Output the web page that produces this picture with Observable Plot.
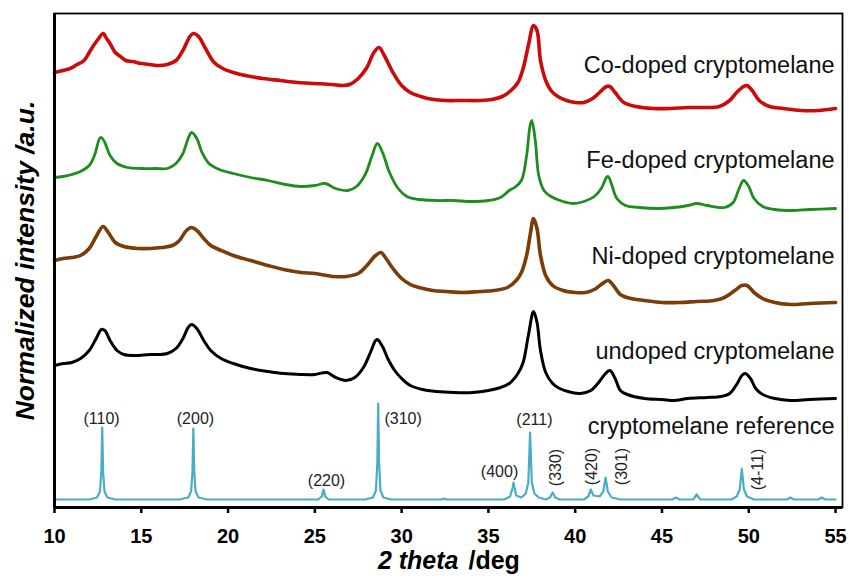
<!DOCTYPE html>
<html><head><meta charset="utf-8">
<script src="https://cdn.jsdelivr.net/npm/d3@7"></script>
<script src="https://cdn.jsdelivr.net/npm/@observablehq/plot@0.6"></script>
<style>
body{margin:0;background:#fff;}
svg{display:block}
g[aria-label="x-axis tick label"] text{font-weight:bold;}
</style>
</head><body><div id="chart"></div>
<script>
// 2θ ticks
const xTicks = [10, 15, 20, 25, 30, 35, 40, 45, 50, 55];

// [2θ (deg), normalized intensity incl. vertical offset (a.u.)]
const coDoped = [[10.0,435],[10.5,437],[10.9,439],[11.3,443],[11.7,447],[12.0,455],[12.25,462],[12.5,468],[12.8,474],[13.0,469],[13.2,464],[13.5,455],[13.8,451],[14.1,447],[14.5,446],[15.0,444],[15.5,443],[16.0,442],[16.5,443],[17.0,447],[17.4,457],[17.8,471],[18.0,474],[18.3,471],[18.7,459],[19.2,445],[19.7,439],[20.3,435],[21.0,432],[22.0,429],[23.0,427],[24.0,425],[25.0,424],[26.0,423],[26.6,422],[27.0,423],[27.5,429],[28.0,440],[28.4,455],[28.7,460],[29.0,452],[29.5,435],[30.0,422],[30.5,415],[31.1,411],[31.5,409],[32.5,407],[33.5,407],[34.5,407],[35.2,408],[35.8,411],[36.3,417],[36.7,425],[37.0,439],[37.3,462],[37.6,482],[37.8,477],[38.0,447],[38.3,427],[38.6,417],[39.0,411],[39.5,407],[40.0,405],[40.5,405],[41.0,409],[41.4,415],[41.8,421],[42.0,421],[42.3,415],[42.8,405],[43.5,401],[44.5,399],[45.5,399],[46.5,400],[47.5,400],[48.3,401],[48.9,407],[49.3,415],[49.7,421],[49.9,422],[50.2,417],[50.6,407],[51.2,401],[52.0,399],[53.0,397],[54.0,397],[55.0,399]];

const feDoped = [[10.0,330],[10.5,331],[11.0,333],[11.5,336],[12.0,342],[12.3,352],[12.6,369],[12.7,370],[12.9,365],[13.2,352],[13.6,344],[14.2,340],[15.0,339],[15.8,339],[16.5,339],[17.0,344],[17.4,354],[17.7,369],[17.9,375],[18.2,369],[18.5,355],[18.9,344],[19.5,338],[20.3,334],[21.3,330],[22.3,327],[23.3,323],[24.2,321],[25.0,322],[25.6,324],[26.2,319],[26.9,317],[27.4,321],[27.9,333],[28.3,352],[28.6,364],[28.9,355],[29.3,335],[29.8,319],[30.3,311],[31.0,308],[32.0,307],[33.0,307],[34.0,306],[35.0,307],[35.7,310],[36.2,317],[36.5,320],[36.9,327],[37.2,352],[37.4,382],[37.5,387],[37.7,367],[37.9,332],[38.2,317],[38.6,311],[39.3,306],[39.9,304],[40.5,306],[41.1,311],[41.5,319],[41.8,330],[41.9,331],[42.1,323],[42.4,309],[42.9,302],[43.7,300],[44.7,299],[45.7,300],[46.5,302],[47.0,304],[47.6,302],[48.6,300],[49.1,305],[49.4,317],[49.7,327],[50.0,321],[50.3,309],[50.8,301],[51.5,298],[52.5,297],[53.5,298],[55.0,299]];

const niDoped = [[10.0,247],[10.5,249],[11.0,250],[11.5,252],[12.0,259],[12.4,271],[12.8,281],[13.1,275],[13.5,265],[14.0,261],[14.8,259],[15.5,259],[16.2,260],[16.8,262],[17.2,267],[17.6,277],[17.9,280],[18.2,277],[18.6,269],[19.0,262],[19.6,257],[20.3,252],[21.3,247],[22.3,242],[23.2,238],[24.2,235],[25.0,234],[26.1,231],[26.8,231],[27.5,234],[28.0,242],[28.5,252],[28.8,255],[29.1,249],[29.5,239],[30.0,229],[30.5,223],[31.0,220],[31.8,217],[32.6,216],[33.5,215],[34.5,216],[35.3,217],[36.1,220],[36.6,227],[36.9,235],[37.2,252],[37.4,272],[37.6,289],[37.8,279],[38.0,252],[38.3,232],[38.7,222],[39.3,217],[40.0,215],[40.6,215],[41.1,218],[41.5,223],[41.9,227],[42.2,222],[42.6,213],[43.2,209],[44.0,207],[45.0,205],[46.0,205],[47.0,206],[48.0,207],[48.6,210],[49.2,217],[49.6,222],[49.9,222],[50.3,215],[50.8,209],[51.5,205],[52.4,203],[53.5,204],[55.0,205]];

const undoped = [[10.0,142],[10.5,144],[11.0,145],[11.5,149],[12.0,157],[12.4,169],[12.7,178],[12.9,177],[13.2,167],[13.6,157],[14.0,153],[14.6,152],[15.5,153],[16.0,153],[16.5,154],[17.0,159],[17.4,169],[17.7,180],[17.9,183],[18.2,179],[18.6,167],[19.0,157],[19.6,149],[20.3,144],[21.3,139],[22.3,136],[23.2,134],[24.2,133],[25.0,133],[25.7,135],[26.2,130],[26.8,127],[27.3,130],[27.8,140],[28.2,155],[28.5,167],[28.6,168],[28.9,161],[29.2,149],[29.6,137],[30.0,129],[30.5,122],[31.2,118],[32.0,116],[33.0,115],[34.1,115],[35.0,117],[35.7,120],[36.2,124],[36.7,134],[37.0,145],[37.3,172],[37.6,196],[37.8,185],[38.0,157],[38.3,135],[38.7,124],[39.1,119],[39.8,115],[40.3,114],[40.9,117],[41.3,124],[41.7,133],[42.0,137],[42.3,129],[42.6,117],[43.0,113],[44.0,109],[45.0,108],[45.7,107],[46.5,109],[47.6,110],[48.4,111],[48.9,114],[49.3,123],[49.6,132],[49.8,134],[50.1,129],[50.4,119],[50.8,113],[51.5,109],[52.4,107],[53.5,108],[55.0,109]];

const reference = [[10.0,8],[12.0,8],[12.45,10],[12.62,16],[12.7,36],[12.75,80],[12.8,36],[12.88,16],[13.05,10],[13.5,8],[17.2,8],[17.7,10],[17.87,16],[17.95,36],[18.0,79],[18.05,36],[18.13,16],[18.3,10],[18.8,8],[25.2,8],[25.4,11],[25.5,18],[25.6,11],[25.8,8],[27.9,8],[28.35,10],[28.52,17],[28.6,45],[28.65,104],[28.7,45],[28.78,17],[28.95,10],[29.4,8],[32.3,8],[32.45,9],[32.6,8],[35.9,8],[36.25,11],[36.4,20],[36.45,25],[36.5,20],[36.6,12],[36.9,10],[37.15,14],[37.3,25],[37.4,75],[37.5,25],[37.65,14],[37.9,10],[38.3,8],[38.55,10],[38.7,15],[38.85,10],[39.1,8],[40.5,8],[40.75,11],[40.9,18],[41.05,12],[41.4,11],[41.62,16],[41.75,30],[41.88,16],[42.1,10],[42.6,8],[45.6,8],[45.8,10],[46.0,8],[46.8,8],[47.0,13],[47.2,8],[49.0,8],[49.3,11],[49.48,18],[49.6,39],[49.72,18],[49.9,11],[50.3,8],[52.2,8],[52.4,10],[52.6,8],[54.0,8],[54.2,10],[54.4,8],[55.0,8]];

const seriesNames = ["Co-doped cryptomelane", "Fe-doped cryptomelane", "Ni-doped cryptomelane", "undoped cryptomelane", "cryptomelane reference"];

// Miller indices of the reference reflections
const hklText = ["(110)", "(200)", "(220)", "(310)", "(211)", "(400)", "(330)", "(420)", "(301)", "(4-11)"];

// ---- styling / layout (kept apart from data) ----
const seriesData = [coDoped, feDoped, niDoped, undoped, reference];
const seriesColors = ["#cc0a0a", "#1e8c1e", "#7a3c08", "#000000", "#4bacc6"];
const seriesWidths = [3.6, 2.8, 3.6, 3.0, 2.2];
const seriesCurves = ["catmull-rom", "catmull-rom", "catmull-rom", "catmull-rom", "linear"];
const nameAnchorY = [442.5, 347.5, 251.5, 156.5, 81.5];
const hklPos = [
  {x: 12.71, y: 89, r: 0, a: "middle"},
  {x: 18.12, y: 89, r: 0, a: "middle"},
  {x: 25.67, y: 27, r: 0, a: "middle"},
  {x: 29.01, y: 89, r: 0, a: "start"},
  {x: 37.65, y: 88, r: 0, a: "middle"},
  {x: 35.64, y: 36, r: 0, a: "middle"},
  {x: 38.86, y: 40, r: -90, a: "middle"},
  {x: 40.94, y: 41, r: -90, a: "middle"},
  {x: 42.67, y: 41, r: -90, a: "middle"},
  {x: 50.50, y: 38, r: -90, a: "middle"}
];

const toRows = arr => arr.map(([t, v]) => ({theta: t, value: v}));

const lineMarks = seriesData.map((d, i) =>
  Plot.line(toRows(d), {x: "theta", y: "value", stroke: seriesColors[i], strokeWidth: seriesWidths[i], curve: seriesCurves[i], strokeLinejoin: "round"})
);

const hklMarks = hklText.map((t, i) =>
  Plot.text([t], {text: d => d, x: () => hklPos[i].x, y: () => hklPos[i].y, rotate: hklPos[i].r, textAnchor: hklPos[i].a, fontSize: 16, fill: "#222"})
);

const chart = Plot.plot({
  width: 849,
  height: 579,
  marginLeft: 54,
  marginRight: 7,
  marginTop: 13,
  marginBottom: 72,
  style: {fontFamily: "'Liberation Sans', Arial, sans-serif", background: "#fff", color: "#000"},
  x: {domain: [10, 55.4]},
  y: {domain: [0, 494], axis: null},
  marks: [
    ...lineMarks,
    ...hklMarks,
    Plot.text(seriesNames, {text: d => d, x: () => 55, y: (d, i) => nameAnchorY[i], textAnchor: "end", dx: -1, fontSize: 23.5, fill: "#111"}),
    Plot.frame({stroke: "#000", strokeWidth: 1.8}),
    Plot.ruleX([10], {stroke: "#000", strokeWidth: 3}),
    Plot.ruleY([0], {stroke: "#000", strokeWidth: 3}),
    Plot.axisX({ticks: xTicks, tickSize: 6, tickPadding: 15, fontSize: 20, fontWeight: "bold", strokeWidth: 2.5, label: null}),
    Plot.text(["2 theta"], {text: d => d, frameAnchor: "bottom", dx: 10, dy: 61, textAnchor: "end", fontSize: 25, fontWeight: "bold", fontStyle: "italic"}),
    Plot.text(["/deg"], {text: d => d, frameAnchor: "bottom", dx: 20, dy: 61, textAnchor: "start", fontSize: 25, fontWeight: "bold"}),
    Plot.text(["Normalized intensity /a.u."], {text: d => d, frameAnchor: "left", dx: -29, rotate: -90, textAnchor: "middle", fontSize: 26.5, fontWeight: "bold", fontStyle: "italic"})
  ]
});
document.getElementById("chart").append(chart);
</script>
</body></html>
